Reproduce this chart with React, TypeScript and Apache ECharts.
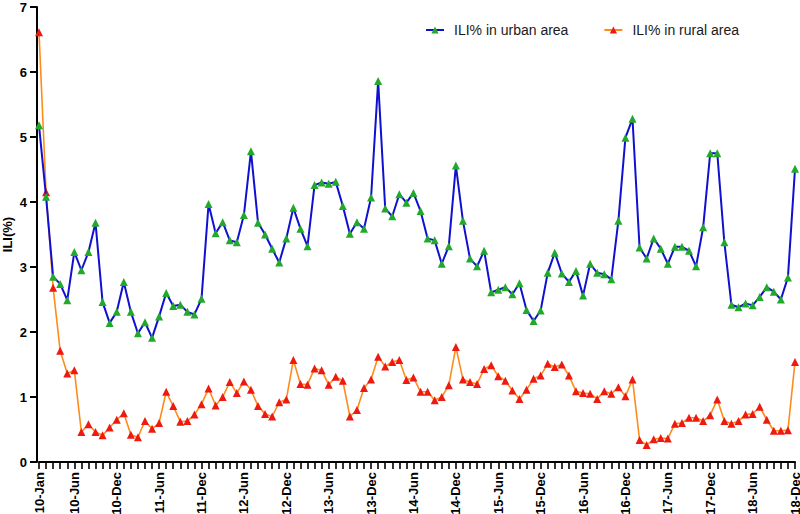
import React, { useEffect, useRef } from "react";
import * as echarts from "echarts";

const years = ["10", "11", "12", "13", "14", "15", "16", "17", "18"];
const months = ["Jan", "Feb", "Mar", "Apr", "May", "Jun", "Jul", "Aug", "Sep", "Oct", "Nov", "Dec"];
const categories: string[] = [];
years.forEach((y) => months.forEach((m) => categories.push(`${y}-${m}`)));

const urban = [
  5.18, 4.08, 2.85, 2.74, 2.49, 3.23, 2.95, 3.23, 3.68, 2.46, 2.14, 2.31,
  2.77, 2.31, 1.98, 2.15, 1.91, 2.24, 2.6, 2.4, 2.42, 2.31, 2.27, 2.51,
  3.97, 3.52, 3.69, 3.41, 3.38, 3.8, 4.78, 3.68, 3.5, 3.28, 3.07, 3.44,
  3.91, 3.59, 3.32, 4.26, 4.3, 4.28, 4.31, 3.94, 3.51, 3.69, 3.59, 4.07,
  5.86, 3.9, 3.78, 4.12, 3.99, 4.14, 3.86, 3.44, 3.41, 3.05, 3.32, 4.56,
  3.71, 3.13, 3.01, 3.25, 2.61, 2.65, 2.69, 2.58, 2.75, 2.34, 2.17, 2.33,
  2.91, 3.22, 2.9, 2.77, 2.94, 2.56, 3.05, 2.91, 2.89, 2.81, 3.71, 4.99,
  5.28, 3.3, 3.13, 3.44, 3.28, 3.05, 3.31, 3.31, 3.25, 3.01, 3.61, 4.75,
  4.75, 3.38, 2.42, 2.38, 2.44, 2.41, 2.54, 2.69, 2.62, 2.5, 2.84, 4.51,
];

const rural = [
  6.61, 4.15, 2.68, 1.71, 1.36, 1.41, 0.46, 0.58, 0.46, 0.41, 0.53, 0.65,
  0.75, 0.42, 0.38, 0.63, 0.51, 0.6, 1.08, 0.86, 0.62, 0.63, 0.73, 0.89,
  1.13, 0.87, 1.0, 1.23, 1.06, 1.24, 1.11, 0.86, 0.74, 0.7, 0.92, 0.96,
  1.57, 1.2, 1.19, 1.44, 1.41, 1.19, 1.31, 1.25, 0.7, 0.8, 1.14, 1.27,
  1.62, 1.47, 1.54, 1.57, 1.26, 1.3, 1.08, 1.08, 0.95, 1.0, 1.18, 1.77,
  1.27, 1.23, 1.2, 1.43, 1.49, 1.32, 1.25, 1.1, 0.97, 1.11, 1.28, 1.33,
  1.51, 1.46, 1.5, 1.33, 1.09, 1.06, 1.05, 0.97, 1.09, 1.05, 1.15, 1.01,
  1.27, 0.34, 0.26, 0.35, 0.37, 0.36, 0.59, 0.6, 0.68, 0.68, 0.63, 0.72,
  0.96, 0.63, 0.59, 0.63, 0.73, 0.74, 0.85, 0.65, 0.48, 0.48, 0.49, 1.54,
];

const seriesNames = ["ILI% in urban area", "ILI% in rural area"];
const yTicks = [0, 7, 1];

const FONT = "'Liberation Sans', Arial, sans-serif";

export default function App() {
  const ref = useRef<HTMLDivElement>(null);
  useEffect(() => {
    if (!ref.current) return;
    const chart = echarts.init(ref.current, undefined, { renderer: "svg" });
    chart.setOption({
      animation: false,
      backgroundColor: "#ffffff",
      grid: { left: 39, right: 5, top: 7, bottom: 52, containLabel: false, outerBoundsMode: "none" },
      legend: {
        left: 420,
        top: 18,
        itemWidth: 18,
        itemHeight: 9,
        itemGap: 35,
        textStyle: { fontFamily: FONT, fontSize: 14, color: "#1a1a1a", padding: [0, 0, 0, 5] },
        data: seriesNames,
      },
      xAxis: {
        type: "category",
        data: categories,
        boundaryGap: false,
        axisLine: { lineStyle: { color: "#000", width: 2 } },
        axisTick: {
          show: true,
          interval: 0,
          length: 7,
          lineStyle: { color: "#000", width: 1.6 },
        },
        axisLabel: {
          interval: (idx: number) => idx === 0 || (idx - 5) % 6 === 0,
          rotate: 90,
          margin: 10,
          fontFamily: FONT,
          fontWeight: "bold",
          fontSize: 13,
          color: "#000",
          hideOverlap: false,
        },
      },
      yAxis: {
        type: "value",
        min: yTicks[0],
        max: yTicks[1],
        interval: yTicks[2],
        offset: 2,
        name: "ILI(%)",
        nameLocation: "middle",
        nameGap: 23,
        nameMoveOverlap: false,
        nameTextStyle: { fontFamily: FONT, fontWeight: "bold", fontSize: 13, color: "#000" },
        splitLine: { show: false },
        axisLine: { show: true, lineStyle: { color: "#000", width: 2 } },
        axisTick: { show: true, length: 7, lineStyle: { color: "#000", width: 2 } },
        axisLabel: {
          margin: 10,
          fontFamily: FONT,
          fontWeight: "bold",
          fontSize: 13,
          color: "#000",
        },
      },
      series: [
        {
          name: seriesNames[0],
          type: "line",
          data: urban,
          symbol: "triangle",
          symbolSize: 8,
          showAllSymbol: true,
          itemStyle: { color: "#22a82a" },
          lineStyle: { color: "#1010d0", width: 2 },
          z: 3,
        },
        {
          name: seriesNames[1],
          type: "line",
          data: rural,
          symbol: "triangle",
          symbolSize: 8,
          showAllSymbol: true,
          itemStyle: { color: "#ee1a10" },
          lineStyle: { color: "#ff8c1a", width: 1.6 },
          z: 2,
        },
      ],
    });
    return () => chart.dispose();
  }, []);
  return <div ref={ref} style={{ width: 800, height: 514, position: "absolute", left: 0, top: 0 }} />;
}
